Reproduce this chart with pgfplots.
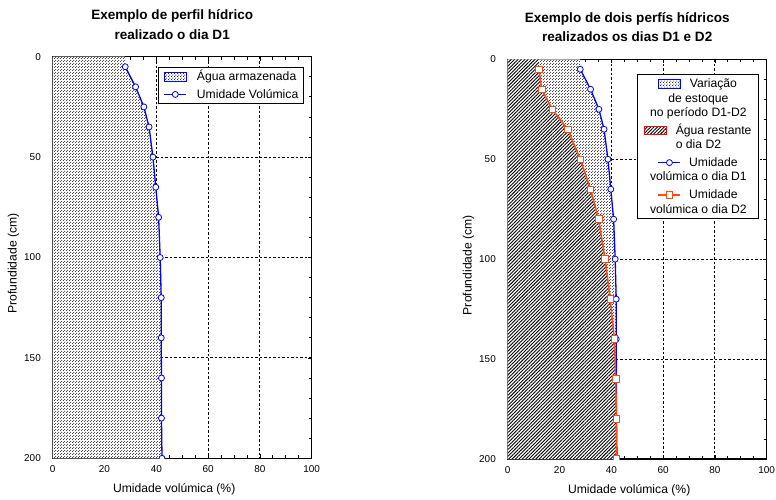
\documentclass[border=0pt]{standalone}
\usepackage{pgfplots}
\pgfplotsset{compat=1.18}
\usepackage{fontspec}
\setmainfont{Liberation Sans}
\usetikzlibrary{patterns,patterns.meta}

\definecolor{dtwo}{RGB}{250,75,25}

\tikzdeclarepattern{
  name=mydots,
  type=uncolored,
  bounding box={(0bp,0bp) and (3bp,3bp)},
  tile size={(3bp,3bp)},
  code={
    \fill (0.75bp,0.75bp) circle (0.65bp);
    \fill (2.25bp,2.25bp) circle (0.65bp);
  }
}

\newcommand{\rA}{\rule[-3bp]{0pt}{14.3bp}}
\newcommand{\rB}{\rule[-3bp]{0pt}{18bp}}

\pgfplotsset{
  layers/mylay/.define layer set={axis background,axis grid,main,axis ticks,axis lines,axis tick labels,axis descriptions,axis foreground}{},
  common/.style={
    scale only axis, width=259bp, anchor=south west,
    xmin=0, xmax=100, ymin=0, ymax=200, y dir=reverse,
    xtick={0,20,...,100}, ytick={0,50,...,200},
    minor x tick num=3, minor y tick num=4,
    tick align=inside, major tick length=4bp, minor tick length=3bp,
    tick style={black, line width=0.8bp},
    grid=major, grid style={black, line width=0.9bp, dash pattern=on 2.5bp off 2bp},
    axis line style={black, line width=1.3bp},
    set layers=mylay,
    clip marker paths=true,
    ticklabel style={font=\fontsize{10}{12}\selectfont},
    /pgf/number format/assume math mode=true,
    xticklabel style={anchor=base, inner sep=0pt, yshift=-14bp},
    yticklabel style={anchor=east, inner sep=0pt, xshift=-11.7bp},
    xlabel={Umidade volúmica (\%)}, ylabel={Profundidade (cm)},
    label style={font=\fontsize{12.2}{14}\selectfont},
    xlabel style={at={(axis description cs:0.5,0)}, anchor=base, yshift=-34.5bp, xshift=-8bp},
    ylabel style={at={(axis description cs:-0.139,0.485)}, anchor=base},
    title style={font=\fontsize{13.6}{20}\selectfont\bfseries, align=center, at={(axis description cs:0.5,1)}, anchor=south, inner sep=0pt, yshift=11bp, xshift=-10bp},
    legend style={draw=black, line width=0.8bp, fill=white, font=\fontsize{12.2}{14}\selectfont, inner ysep=2bp, row sep=0pt, column sep=0pt, nodes={inner sep=0pt, text depth=3bp}},
  },
  d1line/.style={blue, line width=1.3bp, mark=*, mark size=3bp, mark options={fill=white, draw=blue, line width=0.8bp, solid}},
  d2line/.style={dtwo, line width=1.5bp, mark=square*, mark size=3.3bp, mark options={fill=white, draw=dtwo, line width=0.8bp, solid}},
  dotleg/.style={legend image code/.code={\path (0bp,0bp); \begin{scope}[overlay]\draw[blue, line width=0.8bp, fill=white, postaction={pattern=mydots}] (#1,-0.5bp) rectangle ++(22bp,8.5bp);\end{scope}}},
  hatchleg/.style={legend image code/.code={\path (0bp,0bp); \begin{scope}[overlay]\draw[red, line width=0.8bp, fill=white, postaction={pattern={Lines[angle=45,distance=2.4bp,line width=0.9bp]}}] (#1,-0.5bp) rectangle ++(22bp,8.5bp);\end{scope}}},
  lineleg/.style={legend image code/.code={\path (0bp,0bp); \begin{scope}[overlay]\draw[mark repeat=2, mark phase=2] plot coordinates {(#1,4bp) (#1+11bp,4bp) (#1+22bp,4bp)};\end{scope}}},
  emptyleg/.style={legend image code/.code={\path (0bp,0bp);}},
}

\begin{document}
\begin{tikzpicture}
\path (0bp,0bp) rectangle (776bp,497bp);

% ---------------- Left chart ----------------
\begin{axis}[common, at={(52.7bp,38.7bp)}, height=401.6bp,
  title={Exemplo de perfil hídrico\\realizado o dia D1},
  legend style={at={(axis description cs:0.9714,0.975)}, anchor=north east, inner xsep=5.6bp, cells={anchor=base west}}]
\addplot[draw=none, fill=white, postaction={pattern=mydots}, forget plot] coordinates {
(0,0) (28,0) (28,5) (32,15) (35.2,25) (37.2,35) (38.7,50) (39.8,65) (40.9,80) (41.5,100) (41.9,120) (41.9,140) (42.0,160) (42.0,180) (42.2,200) (0,200)} -- cycle;
\addplot[d1line, forget plot] coordinates {
(28,5) (32,15) (35.2,25) (37.2,35) (38.7,50) (39.8,65) (40.9,80) (41.5,100) (41.9,120) (41.9,140) (42.0,160) (42.0,180) (42.2,200)};
\addlegendimage{dotleg=0bp}
\addlegendentry{\rA\hspace*{32bp}Água armazenada}
\addlegendimage{d1line, lineleg=0bp}
\addlegendentry{\rB\hspace*{32bp}Umidade Volúmica}
\end{axis}

% ---------------- Right chart ----------------
\begin{axis}[common, at={(507.7bp,38bp)}, height=399.7bp,
  title={Exemplo de dois perfís hídricos\\realizados os dias D1 e D2},
  legend style={at={(axis description cs:0.9676,0.9632)}, anchor=north east, inner xsep=6.4bp, cells={anchor=base}}]
\addplot[draw=none, fill=white, postaction={pattern=mydots}, forget plot] coordinates {
(0,0) (28,0) (28,5) (32,15) (35.2,25) (37.2,35) (38.7,50) (39.8,65) (40.9,80) (41.5,100) (41.9,120) (41.9,140) (42.0,160) (42.0,180) (42.2,200) (0,200)} -- cycle;
\addplot[draw=none, fill=white, postaction={pattern={Lines[angle=45,distance=2.4bp,line width=0.9bp]}}, forget plot] coordinates {
(0,0) (12.1,0) (12.1,5) (13.1,15) (17.2,25) (23.2,35) (28.0,50) (32.0,65) (35.1,80) (37.6,100) (39.6,120) (41.2,140) (41.7,160) (42.0,180) (42.0,200) (0,200)} -- cycle;
\addplot[d1line, forget plot] coordinates {
(28,5) (32,15) (35.2,25) (37.2,35) (38.7,50) (39.8,65) (40.9,80) (41.5,100) (41.9,120) (41.9,140) (42.0,160) (42.0,180) (42.2,200)};
\addplot[d2line, forget plot] coordinates {
(12.1,5) (13.1,15) (17.2,25) (23.2,35) (28.0,50) (32.0,65) (35.1,80) (37.6,100) (39.6,120) (41.2,140) (41.7,160) (42.0,180) (42.0,200)};
\addlegendimage{dotleg=14.2bp}
\addlegendentry{\rA\hspace*{30bp}Variação}
\addlegendimage{emptyleg}
\addlegendentry{\rA de estoque}
\addlegendimage{emptyleg}
\addlegendentry{\rA no período D1-D2}
\addlegendimage{hatchleg=0bp}
\addlegendentry{\rB\hspace*{30.5bp}Água restante}
\addlegendimage{emptyleg}
\addlegendentry{\rA o dia D2}
\addlegendimage{d1line, lineleg=13.85bp}
\addlegendentry{\rB\hspace*{30bp}Umidade}
\addlegendimage{emptyleg}
\addlegendentry{\rA volúmica o dia D1}
\addlegendimage{d2line, lineleg=13.85bp}
\addlegendentry{\rB\hspace*{30bp}Umidade}
\addlegendimage{emptyleg}
\addlegendentry{\rA volúmica o dia D2}
\end{axis}
\end{tikzpicture}
\end{document}
